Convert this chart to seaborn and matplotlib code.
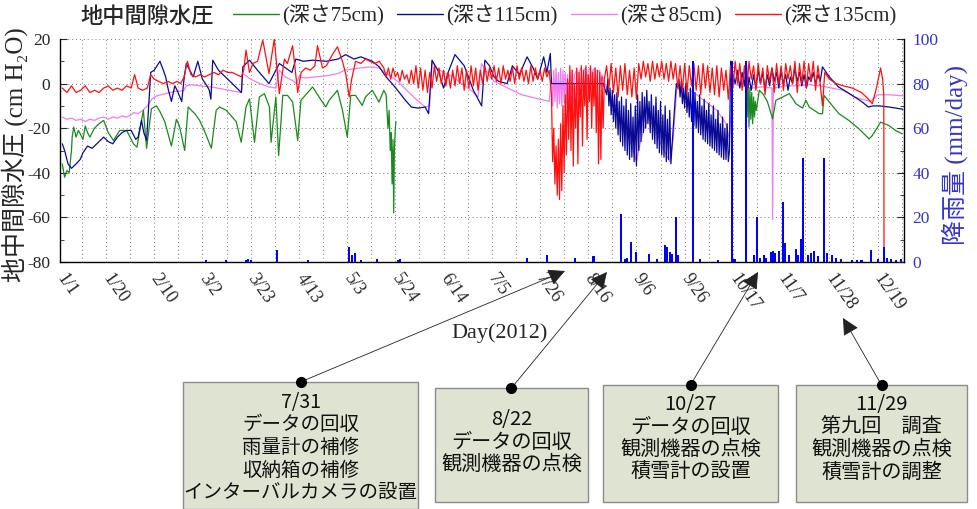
import numpy as np
import pandas as pd
import seaborn as sns
import matplotlib
matplotlib.use("Agg")
import matplotlib.pyplot as plt
from matplotlib.ticker import MultipleLocator
from matplotlib.patches import Rectangle, FancyArrowPatch
from matplotlib.lines import Line2D

# --- data (day of 2012, value) ---
red_135 = [
    (0, -2), (2, -4), (4, -1), (6, -4), (8, -3), (10, -1), (12, -4), (14, -3), (16, -4), (18, -2), (20, -1),
    (22, -3), (24, -2), (26, -3), (28, -1), (30, -2), (31.5, 4), (33, -2), (35, -3), (37, -2), (38.5, 4),
    (40, 2), (42, 1), (44, 0), (46, 1), (48, 0), (50, 1), (51.5, 0), (53, 3), (54.5, 10), (56, 4), (58, 3),
    (60, 4), (62, 3), (64, 4), (66, 5), (68, 4), (70, 6), (72, 5), (74, 5), (76, 4), (78, 3), (79, 6),
    (80, 15), (81.5, 5), (83, 9), (85, 10), (87.3, 19.5), (90, 4.5), (92.3, 20), (94.5, -4.5), (96.7, 11),
    (98, 9), (100.3, 17), (102.5, -4), (104, 5), (106, 7), (108, 6), (110, 8), (111.1, 17), (113.3, 7),
    (115, 8), (117.6, 13), (119.8, 16.5), (122, 10), (123.5, 4), (124.9, -6), (126, 2), (127.7, 10),
    (130, 9), (132, 11), (134, 10), (136, 9), (138, 10), (140, 7), (141, 3), (142, 7), (143, 2), (144, 7),
    (145, 3), (146, 5), (147, 1), (148, 6), (149, 2), (150, 4), (151, 0), (152, 6),
    (153, 0), (154, 8), (155, -2), (156, 7), (157, -3), (158, 6), (159, -4), (160, 5), (161, -2), (162, 8),
    (163, 1), (164, 7), (165, 0), (166, 6), (167, -1), (168, 5), (169, -2), (170, 6), (171, -1), (172, 8),
    (173, 0), (174, 7), (175, -3), (176, 6), (177, -2), (178, 8), (179, -1), (180, 7), (181, -3), (182, 6),
    (183, 0), (184, 8), (185, 1), (186, 7), (187, 2), (188, 8), (189, 1), (190, 7), (191, 0), (192, 8),
    (193, 2), (194, 6), (195, 1), (196, 7), (197, 0), (198, 8), (199, 2), (200, 7), (201, 1), (202, 6),
    (203, 0), (204, 8), (205, 1), (206, 7), (207, 2), (208, 6), (209, 1), (210, 7), (211, 3), (212, 6),
    (213, -5), (213.5, -35), (214, -20), (214.5, -45), (215, -28), (215.5, -50), (216, -25), (216.5, -52),
    (217, -18), (217.5, -48), (218, -10), (218.5, -40), (219, -5), (219.5, -32), (220, 2), (220.5, -25),
    (221, 8), (221.5, -30), (222, 6), (222.5, -37), (223, 0), (223.5, -20), (224, 7), (224.5, -36),
    (225, 5), (225.5, -15), (226, 8), (226.5, -28), (227, 6), (227.5, -10), (228, 8), (228.5, -25),
    (229, 4), (229.5, -8), (230, 8), (230.5, -20), (231, 5), (231.5, -10), (232, 7), (232.5, -22),
    (233, 6), (233.5, -36), (234, 5), (234.5, -34), (235, 3), (235.5, -20), (236, 2),
    (237, 8), (238, -2), (239, 9), (240, -4), (241, 7), (242, -6), (243, 8), (244, -3), (245, 9), (246, -5),
    (247, 6), (248, -6), (249, 7), (250, -7), (251, 9), (252, 2), (253, 10), (254, 3), (255, 9), (256, 1),
    (257, 10), (258, 2), (259, 9), (260, 3), (261, 10), (262, 2), (263, 9), (264, 1), (265, 10), (266, 2),
    (267, 9), (268, -2), (269, 8), (270, -3), (271, 9), (272, -4), (273, 8), (274, -1), (275, 9), (276, -3),
    (277, 8), (278, -5), (279, 9), (280, -2), (281, 8), (282, -4), (283, 7), (284, -5), (285, 8), (286, -6),
    (287, 7), (288, -3), (289, 6), (290, -7), (291, 8), (292, -2), (293, 10), (294, 0), (295, 9), (296, -3),
    (297, 8), (298, -4), (299, 10), (300, 2), (301, 8), (302, -3), (303, 9), (304, 0), (305, 7), (306, -5),
    (307, 8), (308, 1), (309, 7), (310, -4), (311, 9), (312, 0), (313, 8), (314, -3), (315, 9), (316, 2),
    (317, 8), (318, 0), (319, 10), (320, -4), (321, 9), (322, 0), (323, 10), (324, -2), (325, 9), (326, 1),
    (327, 10), (328, -3), (329, 8), (330, 0), (331, -10), (332, 5), (334, 2), (337, 0), (340, -1), (344, -2),
    (348, -4), (351, -7), (352.7, -9), (354.5, -2), (356.3, 7), (357.2, 2), (357.7, -5), (357.8, -80),
]

pink_85 = [
    (0, -15), (2, -16), (4, -15.5), (6, -16.5), (8, -16), (10, -17), (12, -16), (14, -16.5), (16, -15.5),
    (18, -15), (20, -16), (22, -15), (24, -15.5), (26, -14.5), (28, -15), (30, -14), (31, -13), (33, -13.5),
    (35, -12), (37, -10), (39, -7), (41, -5.5), (43, -5), (45, -4.5), (47, -4), (49, -3.5), (51, -3.5),
    (53, -3), (54, -1), (56, -0.5), (60, -1), (65, -1.5), (70, -2.5), (75, -3.5), (78, -4), (78.6, 4.5),
    (82, 2), (86, 0), (90, -1.5), (93, -2), (94.5, 6), (97, 3), (100, 1.5), (102, 0), (103, 3), (106, 2.5),
    (110, 3), (115, 3.5), (120, 4.5), (123, 6), (126, 6.5), (130, 7), (134, 7.5), (138, 7), (142, 4),
    (146, 1), (150, -3), (154, -7), (158, -10.5), (160, -10), (161, 10), (163, 7), (166, 5), (170, 3),
    (174, 0), (178, -3), (181, -6), (182.5, 9), (185, 5), (188, 1), (192, -1), (196, -3), (200, -5),
    (204, -6), (208, -7), (212, -8),
    (213, 3), (213.5, -10), (214, 6), (214.5, -8), (215, 7), (215.5, -11), (216, 5), (216.5, -9), (217, 7),
    (217.5, -10), (218, 6), (218.5, -8), (219, 5), (219.5, -9), (220, 4), (220.5, -10), (221, 5), (221.5, -7),
    (222, 6), (222.5, -9), (223, 4), (224, 6), (224.5, -5), (225, 5), (226, 7), (226.5, -3), (227, 6),
    (228, 7), (228.5, -2), (229, 6), (230, 7), (230.5, -1), (231, 6), (232, 7), (232.5, -2), (233, 5),
    (234, 6), (234.5, -1), (235, 4), (236, 0),
    (240, -8), (244, -18), (248, -28), (250, -35), (252, -25), (255, -15), (258, -20), (261, -28),
    (264.5, -35), (266, -25), (267.5, -3), (270, -1), (275, -4), (280, -8), (285, -12), (289, -18),
    (290.5, -25), (292, 0), (295, -1), (300, -2), (305, -1.5), (309, -2), (309.3, -61), (309.6, -2),
    (315, -1), (320, -1), (325, -0.5), (330, -1), (335, -2), (340, -3), (345, -6), (350, -7.5), (352, -8),
    (355, -5), (360, -5), (366, -5.5),
]

navy_115 = [
    (0, -27), (1, -30), (2.5, -36), (4, -38), (6, -36), (7.8, -34), (9, -31), (11, -28), (13, -29),
    (15, -27), (17, -25), (18, -24), (20, -26), (22, -27), (24, -24), (26, -22), (28, -21), (30, -21),
    (32, -25), (33, -24), (34.5, -16.5), (35.5, -22), (36.7, -25.5), (37.5, -12), (38.5, 5), (40, 6),
    (42.5, 10), (44, 6), (45, 3), (46, -2), (47.5, -8), (49, -1), (50, -3), (52, -8), (53, 2), (54, 9),
    (55.5, 6), (57, 3), (59, 10), (61, 2), (63, -1), (64, -3), (64.7, -7), (65.5, 10.5), (68, 6), (72, 2),
    (76, -2), (78, -4), (78.6, 7.5), (81.5, 10.5), (85, 6), (90, 0), (94.5, 9), (100, 5), (101.7, 11),
    (105, 10), (109, 10.5), (115, 10), (120, 11), (123.4, 13), (127, 11), (130, 12), (135, 10), (138, 7.5),
    (141, 3), (143.6, 0), (146, -3), (149.4, -7.5), (152, -10.5), (155, -11), (158, -10.5), (159.5, -13.5),
    (161, 10.5), (164, 5), (166, -2), (168, 5), (171, 13), (175, 8), (179, -3), (182.6, -10), (184, 10.5),
    (186, 8), (188, 3), (190, 1), (193.7, 0), (196, 8), (199, 4), (202.4, 12), (205, 7), (207, 2),
    (209.6, 12), (211, 5), (212.5, 13.5), (213, 0), (235.6, 0),
    (237, -5), (237.5, 2), (238, -10), (238.5, -2), (239, -14), (239.5, -3), (240, -17), (240.5, -5),
    (241, -20), (241.5, -4), (242, -23), (242.5, -8), (243, -26), (243.5, -6), (244, -28), (244.5, -10),
    (245, -30), (245.5, -7), (246, -32), (246.5, -12), (247, -34), (247.5, -9), (248, -33), (248.5, -15),
    (249, -35), (249.5, -10), (250, -37), (250.5, -5), (251, -30), (251.5, -8), (252, -26), (252.5, -4),
    (253, -22), (253.5, -6), (254, -20), (254.5, -3), (255, -18), (255.5, -8), (256, -22), (256.5, -5),
    (257, -25), (257.5, -10), (258, -27), (258.5, -6), (259, -29), (259.5, -12), (260, -31), (260.5, -8),
    (261, -32), (261.5, -14), (262, -33), (262.5, -10), (263, -35), (263.5, -16), (264, -34), (264.5, -12),
    (265, -36), (266, -20), (267, -5), (267.4, 0),
    (268, -2), (268.5, 2), (269, -6), (269.5, 1), (270, -9), (270.5, -2), (271, -11), (271.5, 0), (272, -13),
    (272.5, -4), (273, -15), (273.5, -2), (274, -17), (274.5, -6), (275, -19), (275.5, -4), (276, -20),
    (276.5, -8), (277, -22), (277.5, -5), (278, -23), (278.5, -10), (279, -25), (279.5, -7), (280, -26),
    (280.5, -12), (281, -27), (281.5, -9), (282, -28), (282.5, -14), (283, -29), (283.5, -10), (284, -30),
    (284.5, -16), (285, -31), (285.5, -12), (286, -32), (286.5, -18), (287, -33), (287.5, -15), (288, -34),
    (288.5, -20), (289, -34), (289.5, -18), (290, -35), (290.5, -30), (291, 10), (292, 4), (293, 0),
    (294, 6), (295, -2), (296, 5), (297, -1), (297.8, 10), (298.5, -2), (299, 3), (300, -3), (301, 4),
    (302, -2), (303, 6), (304, 0), (305, 5), (306, -3), (307, 4), (308, -1), (309, 7), (310, 1), (311, 5),
    (312, -2), (313, 6), (314, 0), (315, 4), (316, -3), (317, 3), (318, 0), (319, 7), (320, 1), (321, 5),
    (322, -1), (323, 4), (324, -2), (325, 3), (326, 1), (327, 5), (328, 0), (329, 4), (330, 1), (331, 7.5),
    (334, 3), (338, -1.5), (342, -4), (345, -6), (348, -8), (351, -10.5), (353, -10), (356, -10),
    (360, -10.5), (366, -11.5),
]

# 75cm sensor has a gap from late May to late October
green_75_spring = [
    (0, -36), (1, -42), (2, -39), (3, -40), (4, -30), (4.3, -24), (5, -19.5), (6, -24), (7, -21),
    (7.8, -22.5), (9, -25), (10, -19), (11, -22), (12, -24), (14, -20), (16, -18), (18, -16.5), (20, -22),
    (22.3, -25.5), (25, -21), (28, -21), (31, -27), (32.5, -28.5), (34.5, -16.5), (35.3, -12), (36.7, -29),
    (38.8, -11.3), (41, -10), (42.5, -12.5), (44.6, -17), (47.5, -28), (49.7, -16), (51, -19), (53.3, -30),
    (54.8, -10.5), (57.7, -13.5), (59.8, -16.5), (62, -21.5), (64.9, -29), (67, -12), (68.5, -10.5),
    (71.4, -12), (75.7, -17), (77.9, -26.3), (80, -10.5), (81.5, -6.8), (83.7, -26.3), (85.8, -6), (88, -4.5),
    (90.2, -10.5), (90.9, -26.3), (93, -6), (94.2, -32.3), (96, -5.3), (98.1, -5.3), (100.3, -8.3),
    (102.5, -25.5), (103.9, -7.5), (109, -1.5), (111.8, -6), (114.7, -10.5), (116.2, -7.5), (119.8, -3),
    (122, -12), (124.1, -24), (125.6, -5.3), (127.7, -5.3), (130.6, -9.8), (132, -6), (135, -3),
    (137.9, -8.3), (140, -3), (141, -5), (141.8, -20), (142.3, -12), (142.8, -30), (143.2, -22),
    (143.6, -45), (144, -25), (144.3, -58), (144.6, -30), (145, -20), (145.3, -17),
]
green_75_autumn = [
    (297.8, 6), (298.2, -15), (298.6, 0), (299, -19.5), (299.4, -2), (299.8, -16), (300.2, -4),
    (300.6, -18), (301, -6), (301.4, -15), (301.8, -8), (302.2, -12), (303.5, -3), (305, -4.5), (307, -8),
    (309.3, -15.8), (310.7, -7.5), (313.7, -6), (316.6, -4.5), (319.4, -9), (322.3, -11), (323.8, -7.5),
    (325.2, -10.5), (329.6, -13.5), (331, -13.5), (331.7, -5.3), (334, -8.3), (338.2, -13.5),
    (342.5, -16.5), (346.9, -20.3), (351.3, -24.8), (352.7, -23.3), (356.3, -17.3), (359.9, -18.8),
    (362.8, -21), (365.7, -22.5),
]

rainfall = [
    (62.7, 1), (71.4, 1), (80, 1), (81, 1.5), (82, 1), (93.3, 5.6), (107, 1), (125, 6.8), (126, 3),
    (127.5, 4), (130, 1), (137, 1.5), (146, 1), (147, 1.5), (202.4, 2), (211, 3.3), (223.3, 1.8),
    (231.3, 2.6), (243.3, 21.4), (245, 1.5), (246, 2), (247.5, 9), (250, 4.5), (255.5, 3.8), (259, 1.5),
    (262.4, 7.8), (263.2, 6.8), (264.5, 4.5), (265.5, 3.5), (267.4, 20), (268.2, 3), (274.6, 90),
    (277.5, 1.5), (285.5, 1), (291.7, 90), (292.7, 1.5), (297.8, 90), (301, 3), (302.5, 20.4), (304, 2),
    (305.5, 3), (306.5, 2), (308.6, 4.5), (309.5, 5), (310.5, 4), (312.2, 5), (313.7, 27), (314.5, 8.3),
    (316.5, 3), (319.4, 6), (320.5, 3), (321.5, 10.5), (322.6, 46.8), (324.5, 3), (326, 4), (327.5, 5),
    (329, 2.5), (331.7, 46.8), (333, 4), (335, 3), (337, 2), (339, 1.5), (344, 1), (346, 1), (348, 1),
    (352, 5.3), (355, 1.5), (357.7, 6.8), (359, 2), (361, 1.5), (363, 1), (365, 1.5),
]

date_labels = ["1/1", "1/20", "2/10", "3/2", "3/23", "4/13", "5/3", "5/24", "6/14", "7/5",
               "7/26", "8/16", "9/6", "9/26", "10/17", "11/7", "11/28", "12/19"]

series_labels = ["(深さ75cm)", "(深さ115cm)", "(深さ85cm)", "(深さ135cm)"]
series_colors = ["#1a8a1a", "#0a0a96", "#f07cf0", "#ff1010"]

events = [
    "7/31\nデータの回収\n雨量計の補修\n収納箱の補修\nインターバルカメラの設置",
    "8/22\nデータの回収\n観測機器の点検",
    "10/27\nデータの回収\n観測機器の点検\n積雪計の設置",
    "11/29\n第九回　調査\n観測機器の点検\n積雪計の調整",
]


def to_df(pairs):
    return pd.DataFrame(pairs, columns=["day", "value"])


sns.set_style("white")
plt.rcParams["font.family"] = ["Liberation Serif", "Noto Sans CJK JP", "DejaVu Sans"]
plt.rcParams["axes.unicode_minus"] = False

MIX = ["Liberation Serif", "Noto Sans CJK JP", "DejaVu Sans"]
JP = ["Noto Sans CJK JP", "DejaVu Sans"]
RAIN_BLUE = "#3434c8"

W, H = 977, 509
fig = plt.figure(figsize=(W / 100, H / 100), dpi=100)
ax = fig.add_axes([60 / W, 1 - 262 / H, 844 / W, 223 / H])

green, navy, pink, red = series_colors
lw = 0.9
sns.lineplot(data=to_df(pink_85), x="day", y="value", ax=ax, color=pink, lw=lw, estimator=None)
sns.lineplot(data=to_df(green_75_spring), x="day", y="value", ax=ax, color=green, lw=lw, estimator=None)
sns.lineplot(data=to_df(green_75_autumn), x="day", y="value", ax=ax, color=green, lw=lw, estimator=None)
sns.lineplot(data=to_df(navy_115), x="day", y="value", ax=ax, color=navy, lw=lw, estimator=None)
sns.lineplot(data=to_df(red_135), x="day", y="value", ax=ax, color=red, lw=lw, estimator=None)

ax.set_xlim(-1, 366.5)
ax.set_ylim(-80, 20)
major = [-1] + list(range(19, 356, 21))
ax.set_xticks(major)
ax.set_xticklabels(date_labels, rotation=-55, ha="left", va="center", rotation_mode="anchor", fontsize=13)
ax.set_xticks(np.arange(8.5, 366, 21), minor=True)
ax.set_yticks(np.arange(-80, 21, 20))
ax.yaxis.set_minor_locator(MultipleLocator(10))
ax.tick_params(axis="y", which="major", direction="in", length=5, pad=7, labelsize=12.5)
ax.tick_params(axis="y", which="minor", direction="in", length=3)
ax.tick_params(axis="x", which="major", direction="out", length=4, pad=6)
ax.tick_params(axis="x", which="minor", direction="out", length=3)
ax.grid(which="both", axis="x", linestyle=(0, (1, 3)), color="#777777", lw=0.7)
ax.grid(which="major", axis="y", linestyle=(0, (1, 3)), color="#777777", lw=0.7)
ax.set_xlabel("")
ax.set_ylabel("地中間隙水圧 (cm H₂O)", fontsize=18, family=MIX)
ax.yaxis.set_label_coords(-0.038, 0.48)
for s in ["top", "right"]:
    ax.spines[s].set_visible(False)
for s in ["left", "bottom"]:
    ax.spines[s].set_color("black")
    ax.spines[s].set_linewidth(1.0)

ax2 = ax.twinx()
rain_df = to_df(rainfall)
ax2.bar(rain_df["day"], rain_df["value"], width=0.9, color="#0000ff", linewidth=0)
ax2.set_ylim(0, 100)
ax2.set_yticks(np.arange(0, 101, 20))
ax2.yaxis.set_minor_locator(MultipleLocator(10))
ax2.tick_params(axis="y", which="major", direction="in", length=5, pad=6, labelsize=12.5, labelcolor=RAIN_BLUE)
ax2.tick_params(axis="y", which="minor", direction="in", length=3)
ax2.set_ylabel("降雨量 (mm/day)", fontsize=18, family=MIX, color=RAIN_BLUE)
ax2.yaxis.set_label_coords(1.044, 0.48)
for s in ["top", "left", "bottom"]:
    ax2.spines[s].set_visible(False)
ax2.spines["right"].set_color("black")
ax2.spines["right"].set_linewidth(1.0)

fig.text(500 / W, 1 - 333 / H, "Day(2012)", ha="center", va="center", fontsize=16, family=MIX)

# legend across the top
fig.text(80 / W, 1 - 16 / H, "地中間隙水圧", ha="left", va="center", fontsize=16, family=JP, weight="medium")
handles = [Line2D([], [], color=c, lw=1.0) for c in series_colors]
fig.legend(handles, series_labels, loc="center left", bbox_to_anchor=(233 / W, 1 - 16 / H),
           ncol=4, frameon=False, prop={"family": MIX, "size": 15}, handlelength=2.2,
           handletextpad=0.15, columnspacing=0.65, borderaxespad=0, borderpad=0)

# event boxes with arrows pointing at the date axis
boxes = [(183, 382, 418, 509), (435, 388, 588, 502), (603, 385, 778, 502), (796, 385, 967, 502)]
heads = [(565, 271), (607, 272), (758, 272), (843, 318)]
text_shift = [2, -3, -5, -5]
text_size = [14, 14.5, 14.5, 14.5]
for (x0, y0, x1, y1), (hx, hy), txt, dy, fs in zip(boxes, heads, events, text_shift, text_size):
    fig.add_artist(Rectangle((x0 / W, 1 - y1 / H), (x1 - x0) / W, (y1 - y0) / H,
                             transform=fig.transFigure, facecolor="#dfe3d1", edgecolor="#8c8c8c", lw=1.0))
    cx = (x0 + x1) / 2
    fig.text(cx / W, 1 - ((y0 + y1) / 2 + dy) / H, txt, ha="center", va="center",
             fontsize=fs, linespacing=1.1, family=JP, color="#111111")
    fig.add_artist(FancyArrowPatch((cx / W, 1 - y0 / H), (hx / W, 1 - hy / H), transform=fig.transFigure,
                                   arrowstyle="-|>,head_length=0.8,head_width=0.4", mutation_scale=13,
                                   color="#222222", lw=0.6, shrinkA=0, shrinkB=0))
    fig.add_artist(Line2D([cx / W], [1 - y0 / H], marker="o", markersize=7, color="black",
                          transform=fig.transFigure))

fig.savefig("out.png", dpi=100)
